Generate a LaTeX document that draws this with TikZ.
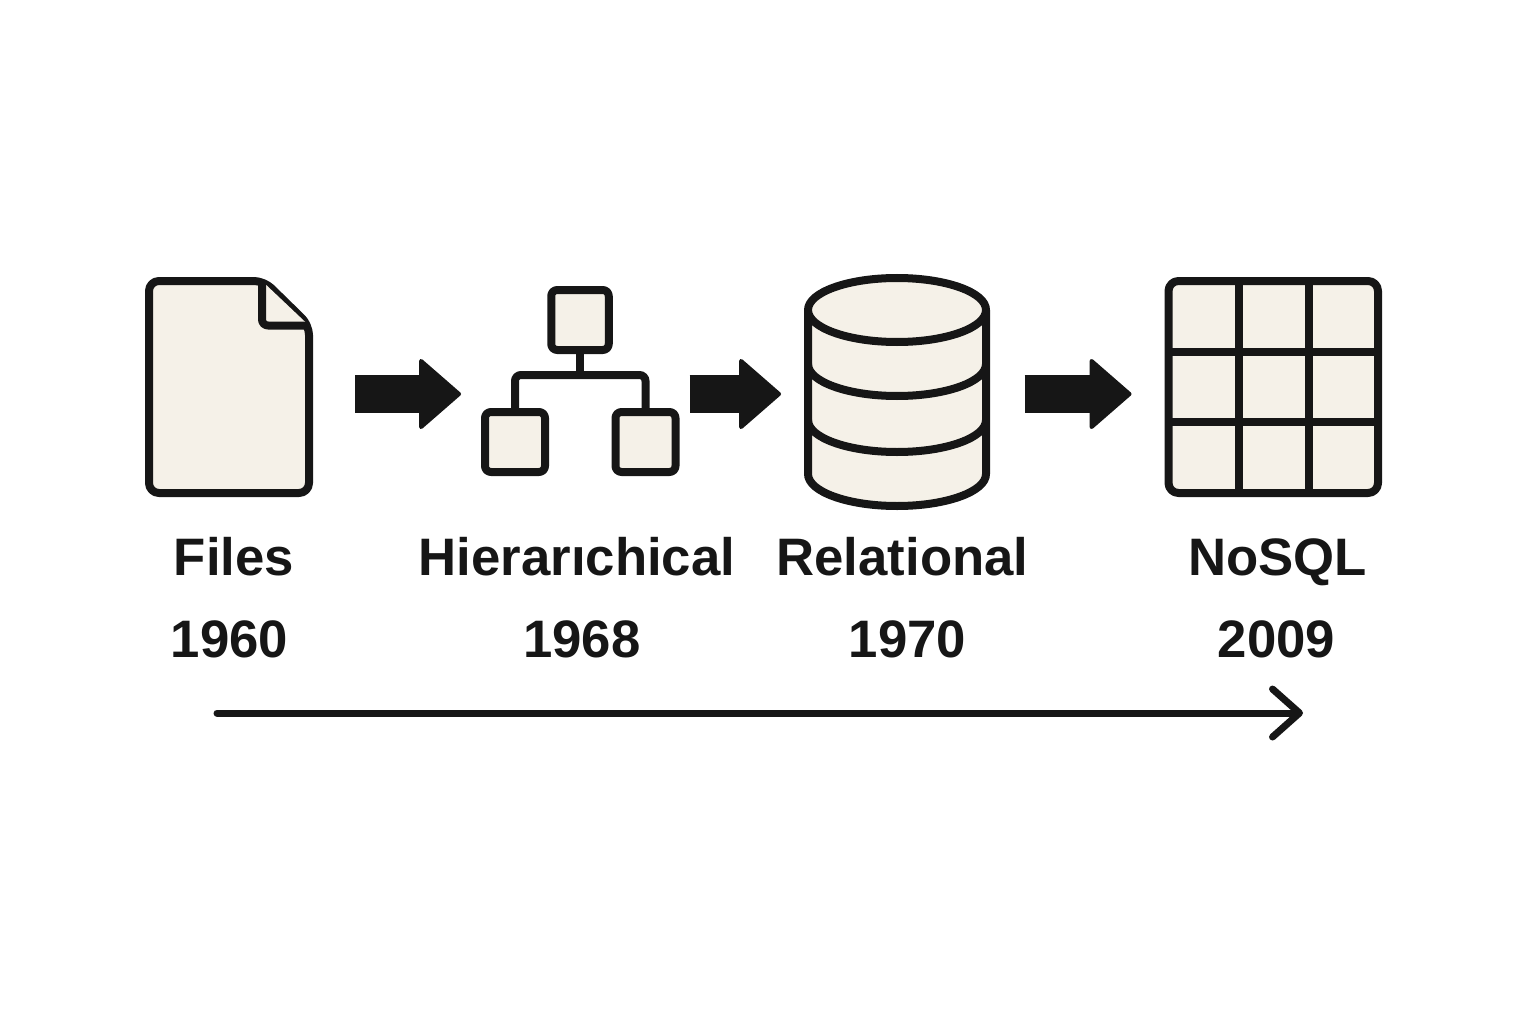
\documentclass[tikz,border=0pt]{standalone}
\usepackage{fontspec}
\setmainfont{Liberation Sans}
\usetikzlibrary{arrows.meta}
\definecolor{ink}{HTML}{161616}
\definecolor{paper}{HTML}{F5F1E8}
\tikzset{
  icon/.style={draw=ink,fill=paper,line width=0.08cm,line join=round},
  iconbox/.style={inner sep=0pt,outer sep=0pt},
  cell/.style={icon,rounded corners=0.06cm,inner sep=0pt},
  link/.style={draw=ink,line width=0.08cm,rounded corners=0.06cm},
  flow/.style={draw=ink,line width=0.38cm,-{Triangle[width=0.74cm,length=0.43cm,round,line width=0.04cm]}},
  timeline/.style={draw=ink,line width=0.07cm,line cap=round,-{Straight Barb[length=0.27cm,width=0.48cm,round,line width=0.07cm]}},
  lbl/.style={text=ink,anchor=base,inner sep=0pt,font=\fontsize{15}{18}\selectfont\bfseries}
}
\begin{document}
\begin{tikzpicture}
  \useasboundingbox (0,0) rectangle (15.36,10.24);
  \coordinate (row) at (0,6.30);

  % Files
  \node[iconbox,minimum width=1.68cm,minimum height=2.20cm] (files) at (2.29,6.37) {};
  \draw[icon,rounded corners=0.1cm] (1.49,7.43) -- (2.64,7.43) -- (3.09,6.99) -- (3.09,5.31) -- (1.49,5.31) -- cycle;
  \draw[icon,rounded corners=0.06cm] (2.62,7.43) -- (2.62,6.985) -- (3.09,6.985);

  % Hierarchical
  \node[cell,minimum width=0.575cm,minimum height=0.60cm] (root) at (5.80,7.04) {};
  \node[cell,minimum width=0.60cm,minimum height=0.60cm] (leafl) at (5.15,5.82) {};
  \node[cell,minimum width=0.60cm,minimum height=0.60cm] (leafr) at (6.455,5.82) {};
  \coordinate (bus) at (5.80,6.49);
  \draw[link] (leafl.north) |- (bus) -| (leafr.north);
  \draw[link] (root.south) -- (bus);

  % Relational
  \node[iconbox,minimum width=1.86cm,minimum height=2.36cm] (db) at (8.97,6.30) {};
  \draw[icon] (8.08,7.14) -- (8.08,5.50) arc[start angle=180,end angle=360,x radius=0.89,y radius=0.32] -- (9.86,7.14) -- cycle;
  \foreach \y in {6.60,6.04}
    \draw[icon,fill=none] (8.08,\y) arc[start angle=180,end angle=360,x radius=0.89,y radius=0.32];
  \draw[icon] (8.97,7.14) ellipse[x radius=0.89,y radius=0.32];

  % NoSQL
  \node[icon,rounded corners=0.1cm,inner sep=0pt,minimum width=2.095cm,minimum height=2.12cm] (grid) at (12.7325,6.37) {};
  \foreach \x in {12.39,13.085}
    \draw[draw=ink,line width=0.08cm] (\x,7.43) -- (\x,5.31);
  \foreach \y in {6.72,6.02}
    \draw[draw=ink,line width=0.08cm] (11.685,\y) -- (13.78,\y);

  % Arrows between the icons
  \draw[flow,shorten <=0.42cm,shorten >=0.20cm] (files.east |- row) -- (leafl.west |- row);
  \draw[flow,shorten <=0.10cm,shorten >=0.23cm] (leafr.east |- row) -- (db.west |- row);
  \draw[flow,shorten <=0.345cm,shorten >=0.33cm] (db.east |- row) -- (grid.west |- row);

  % Labels
  \node[lbl] (lfiles) at (2.34,4.49) {Files};
  \node[lbl] (lhier) at (5.77,4.49) {Hierarıchical};
  \node[lbl] (lrel) at (9.025,4.49) {Relational};
  \node[lbl] (lnosql) at (12.775,4.49) {NoSQL};
  \node[lbl] (yfiles) at (2.295,3.67) {1960};
  \node[lbl] (yhier) at (5.82,3.67) {1968};
  \node[lbl] (yrel) at (9.075,3.67) {1970};
  \node[lbl] (ynosql) at (12.765,3.67) {2009};

  % Time axis
  \coordinate (tstart) at (2.17,3.11);
  \coordinate (tend) at (13.03,3.11);
  \draw[timeline] (tstart) -- (tend);
\end{tikzpicture}
\end{document}
